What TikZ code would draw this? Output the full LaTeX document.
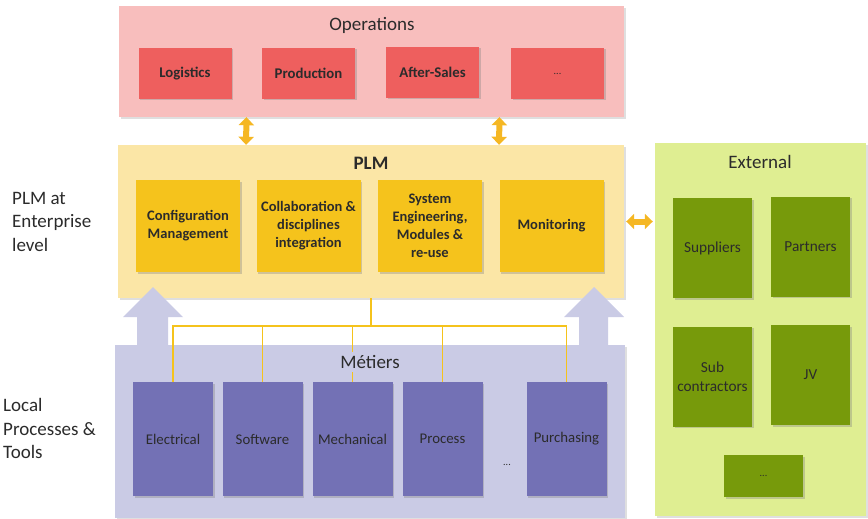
\documentclass[tikz,border=0pt]{standalone}
\usepackage{fontspec}
\setmainfont{Carlito}
\usepackage{tikz}
\usetikzlibrary{positioning, arrows.meta, shadows}
\definecolor{opsback}{HTML}{F8BEBD}
\definecolor{opsfront}{HTML}{EE5F5E}
\definecolor{plmback}{HTML}{FBE6A6}
\definecolor{plmfront}{HTML}{F5C31C}
\definecolor{plmarrow}{HTML}{F5B723}
\definecolor{extback}{HTML}{DFEE92}
\definecolor{extfront}{HTML}{779A0B}
\definecolor{metback}{HTML}{CACBE5}
\definecolor{metfront}{HTML}{7371B5}
\definecolor{textgray}{HTML}{2B2B2B}
\tikzstyle{layer} = [rectangle, inner sep=0pt, drop shadow={shadow xshift=2pt, shadow yshift=-2pt, opacity=0.25}]
\tikzstyle{title} = [inner sep=1pt, font=\fontsize{19}{23}\selectfont, text=textgray]
\tikzstyle{sidelabel} = [inner sep=0pt, align=left, font=\fontsize{19}{23.5}\selectfont, text=textgray]
\tikzstyle{item} = [rectangle, inner sep=0pt, align=center, text=textgray, drop shadow={shadow xshift=1.5pt, shadow yshift=-1.5pt, opacity=0.35}]
\tikzstyle{opsitem} = [item, minimum width=93pt, minimum height=51pt, fill=opsfront, font=\bfseries\fontsize{14.8}{17}\selectfont]
\tikzstyle{plmitem} = [item, minimum width=104pt, minimum height=92pt, fill=plmfront, font=\bfseries\fontsize{14.5}{18}\selectfont]
\tikzstyle{metitem} = [item, minimum width=80pt, minimum height=114pt, fill=metfront, font=\fontsize{14.8}{17}\selectfont]
\tikzstyle{extitem} = [item, minimum width=79pt, minimum height=100pt, fill=extfront, font=\fontsize{15.3}{18.5}\selectfont]
\tikzstyle{dblarrow} = [line width=6pt, draw=plmarrow, {Triangle[width=15pt,length=8pt]}-{Triangle[width=15pt,length=8pt]}]
\tikzstyle{link} = [draw=plmfront, line width=1.2pt]

\begin{document}
\begin{tikzpicture}[x=1pt, y=-1pt]
        \useasboundingbox (0,0) rectangle (868,519);

        % layers
        \node (ops) [layer, fill=opsback, minimum width=505pt, minimum height=111pt] at (371.5,61.5) {};
        \node (plm) [layer, fill=plmback, minimum width=506pt, minimum height=153pt] at (371,221.5) {};
        \node (ext) [layer, fill=extback, minimum width=211pt, minimum height=373pt] at (760.5,329.5) {};

        \fill[metback] (137,350) -- (137,317) -- (123,317) -- (153,287) -- (183,317) -- (168,317) -- (168,350) -- cycle;
        \fill[metback] (579,350) -- (579,317) -- (564,317) -- (594,287) -- (624,317) -- (608,317) -- (608,350) -- cycle;
        \node (met) [layer, fill=metback, minimum width=510pt, minimum height=173pt] at (370,431) {};

        \node (opstitle) [title] at (372,25) {Operations};
        \node (plmtitle) [title, font=\bfseries\fontsize{19}{23}\selectfont] at (371,163) {PLM};
        \node (exttitle) [title] at (760,162) {External};

        \node (plmlabel) [sidelabel, anchor=west] at (12,221.5) {PLM at\\Enterprise\\level};
        \node (metlabel) [sidelabel, anchor=west] at (3,428.5) {Local\\Processes \&\\Tools};

        % operations
        \node (logistics) [opsitem] at (185,73.5) {Logistics};
        \node (production) [opsitem] at (308.5,73.5) {Production};
        \node (aftersales) [opsitem] at (432.5,72.5) {After-Sales};
        \node (opsmore) [opsitem, font=\fontsize{10}{12}\selectfont] at (557.5,73.5) {...};

        % plm
        \node (config) [plmitem] at (188,226) {Configuration\\Management};
        \node (collab) [plmitem] at (308.5,226) {Collaboration \&\\disciplines\\integration};
        \node (syseng) [plmitem] at (430,226) {System\\Engineering,\\Modules \&\\re-use};
        \node (monitor) [plmitem] at (551.5,226) {Monitoring};

        % metiers
        \node (elec) [metitem] at (173,439) {Electrical};
        \node (soft) [metitem] at (262.5,439) {Software};
        \node (mech) [metitem] at (352.5,439) {Mechanical};
        \node (proc) [metitem] at (442.5,439) {Process};
        \node (purch) [metitem] at (566.5,439) {Purchasing};
        \node (metmore) [inner sep=0pt, text=textgray, font=\fontsize{10}{12}\selectfont] at (507,465) {...};

        % external
        \node (suppliers) [extitem] at (712.5,248) {Suppliers};
        \node (partners) [extitem] at (810.5,246.5) {Partners};
        \node (subcon) [extitem] at (712.5,376.5) {Sub\\contractors};
        \node (jv) [extitem] at (810.5,375) {JV};
        \node (extmore) [extitem, minimum height=42pt, font=\fontsize{10}{12}\selectfont] at (763.5,476) {...};

        \coordinate (hub) at (371,326);
        \draw [link] (plm.south) -- (hub);
        \foreach \m in {elec, soft, mech, proc, purch}
                \draw [link] (hub) -| (\m.north);
        \node (mettitle) [title, fill=metback, inner sep=3pt] at (370,362) {Métiers};

        \draw [dblarrow] ([xshift=-125pt]ops.south) -- ([xshift=-125pt]plm.north);
        \draw [dblarrow] ([xshift=128pt]ops.south) -- ([xshift=128pt]plm.north);
        \draw [dblarrow, shorten <=2pt, shorten >=2pt] (plm.east) -- (plm.east -| ext.west);
\end{tikzpicture}
\end{document}
